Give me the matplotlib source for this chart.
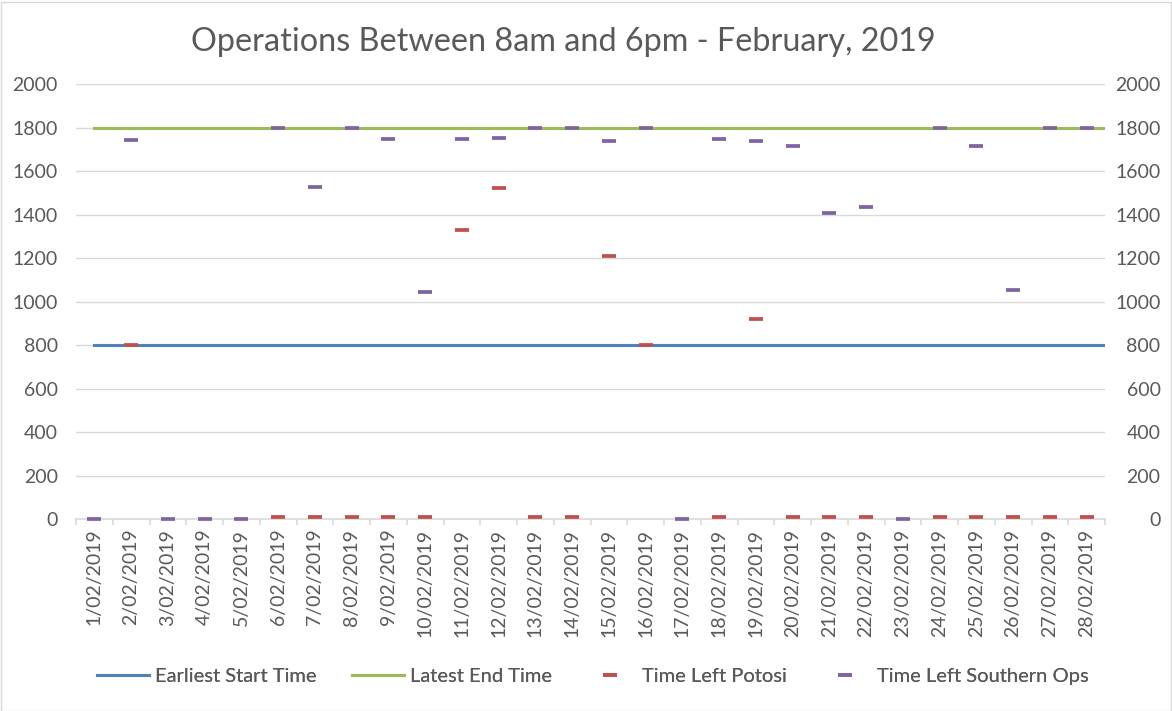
import matplotlib
matplotlib.use("Agg")
import matplotlib.pyplot as plt
import numpy as np
from matplotlib.patches import Rectangle

plt.rcParams['font.family'] = ['Lato', 'DejaVu Sans']

days = [f"{d}/02/2019" for d in range(1, 29)]
earliest_start = [800] * 28
latest_end = [1800] * 28
potosi = [np.nan, 800, np.nan, np.nan, np.nan, 8, 8, 8, 8, 8,
          1330, 1522, 8, 8, 1210, 800, np.nan, 8, 920, 8,
          8, 8, np.nan, 8, 8, 8, 8, 8]
southern = [0, 1743, 0, 0, 0, 1800, 1528, 1800, 1748, 1045,
            1748, 1752, 1800, 1800, 1736, 1800, 0, 1749, 1739, 1713,
            1407, 1435, 0, 1800, 1717, 1053, 1800, 1800]
yticks = list(range(0, 2001, 200))

W, H = 1172, 711
fig = plt.figure(figsize=(W / 100, H / 100), dpi=100)
fig.patches.append(Rectangle((0.5 / W, 0.5 / H), (W - 2) / W, (H - 2) / H,
                             transform=fig.transFigure, fill=False,
                             edgecolor='#D9D9D9', linewidth=1))

rect = [76 / W, 192 / H, 1029 / W, 435 / H]
grey = '#595959'
gridc = '#D9D9D9'
n = len(days)
x = np.arange(1, n + 1)

# lines axes (below)
axl = fig.add_axes(rect)
axl.set_zorder(1)
axl.set_ylim(0, 2000)
axl.set_yticks(yticks)
axl.set_xlim(1 - 0.5 * (n - 1) / (n - 0.5), n)
axl.grid(axis='y', color=gridc, linewidth=1.0)
axl.set_axisbelow(True)
for s in axl.spines.values():
    s.set_visible(False)
axl.tick_params(axis='x', bottom=False, labelbottom=False)
axl.yaxis.tick_right()
axl.tick_params(axis='y', length=0, labelsize=14, labelcolor=grey, pad=40)
for lab in axl.get_yticklabels():
    lab.set_horizontalalignment('right')
l1, = axl.plot(x, earliest_start, color='#4F81BD', linewidth=2.2, label='Earliest Start Time')
l2, = axl.plot(x, latest_end, color='#9BBB59', linewidth=2.2, label='Latest End Time')

# markers axes (top)
ax = fig.add_axes(rect)
ax.set_zorder(2)
ax.patch.set_visible(False)
ax.set_xlim(0.5, n + 0.5)
ax.set_ylim(0, 2000)
ax.set_yticks(yticks)
ax.tick_params(axis='y', length=0, labelsize=14, labelcolor=grey, pad=13)
for k in ['top', 'left', 'right']:
    ax.spines[k].set_visible(False)
ax.spines['bottom'].set_color(gridc)
ax.spines['bottom'].set_linewidth(1.2)
ax.set_xticks(np.arange(0.5, n + 1, 1))
ax.set_xticklabels([])
ax.tick_params(axis='x', which='major', length=4, width=1.2, color=gridc, direction='out')
ax.set_xticks(x, minor=True)
ax.set_xticklabels(days, minor=True, rotation=90)
ax.tick_params(axis='x', which='minor', length=0, pad=7, labelsize=14, labelcolor=grey)
for lab in ax.get_xticklabels(minor=True):
    lab.set_verticalalignment('top')

m1, = ax.plot(x, potosi, linestyle='none', marker='_', markersize=10, markeredgewidth=2.7,
              color='#C0504D', label='Time Left Potosi', clip_on=False, zorder=3)
m2, = ax.plot(x, southern, linestyle='none', marker='_', markersize=10, markeredgewidth=2.7,
              color='#8064A2', label='Time Left Southern Ops', clip_on=False, zorder=3)

fig.text(563 / W, 1 - 42 / H, 'Operations Between 8am and 6pm - February, 2019',
         ha='center', va='center', fontsize=23.3, color=grey)

# legend entries placed individually
ly = 1 - 676 / H
for handle, xstart in [(l1, 97), (l2, 352), (m1, 584), (m2, 819)]:
    leg = fig.legend(handles=[handle], loc='center left',
                     bbox_to_anchor=(xstart / W, ly), frameon=False,
                     borderpad=0, borderaxespad=0, handlelength=2.56,
                     handletextpad=0.3, fontsize=14.5, labelcolor=grey)
    fig.add_artist(leg)

fig.savefig('out.png', dpi=100)
